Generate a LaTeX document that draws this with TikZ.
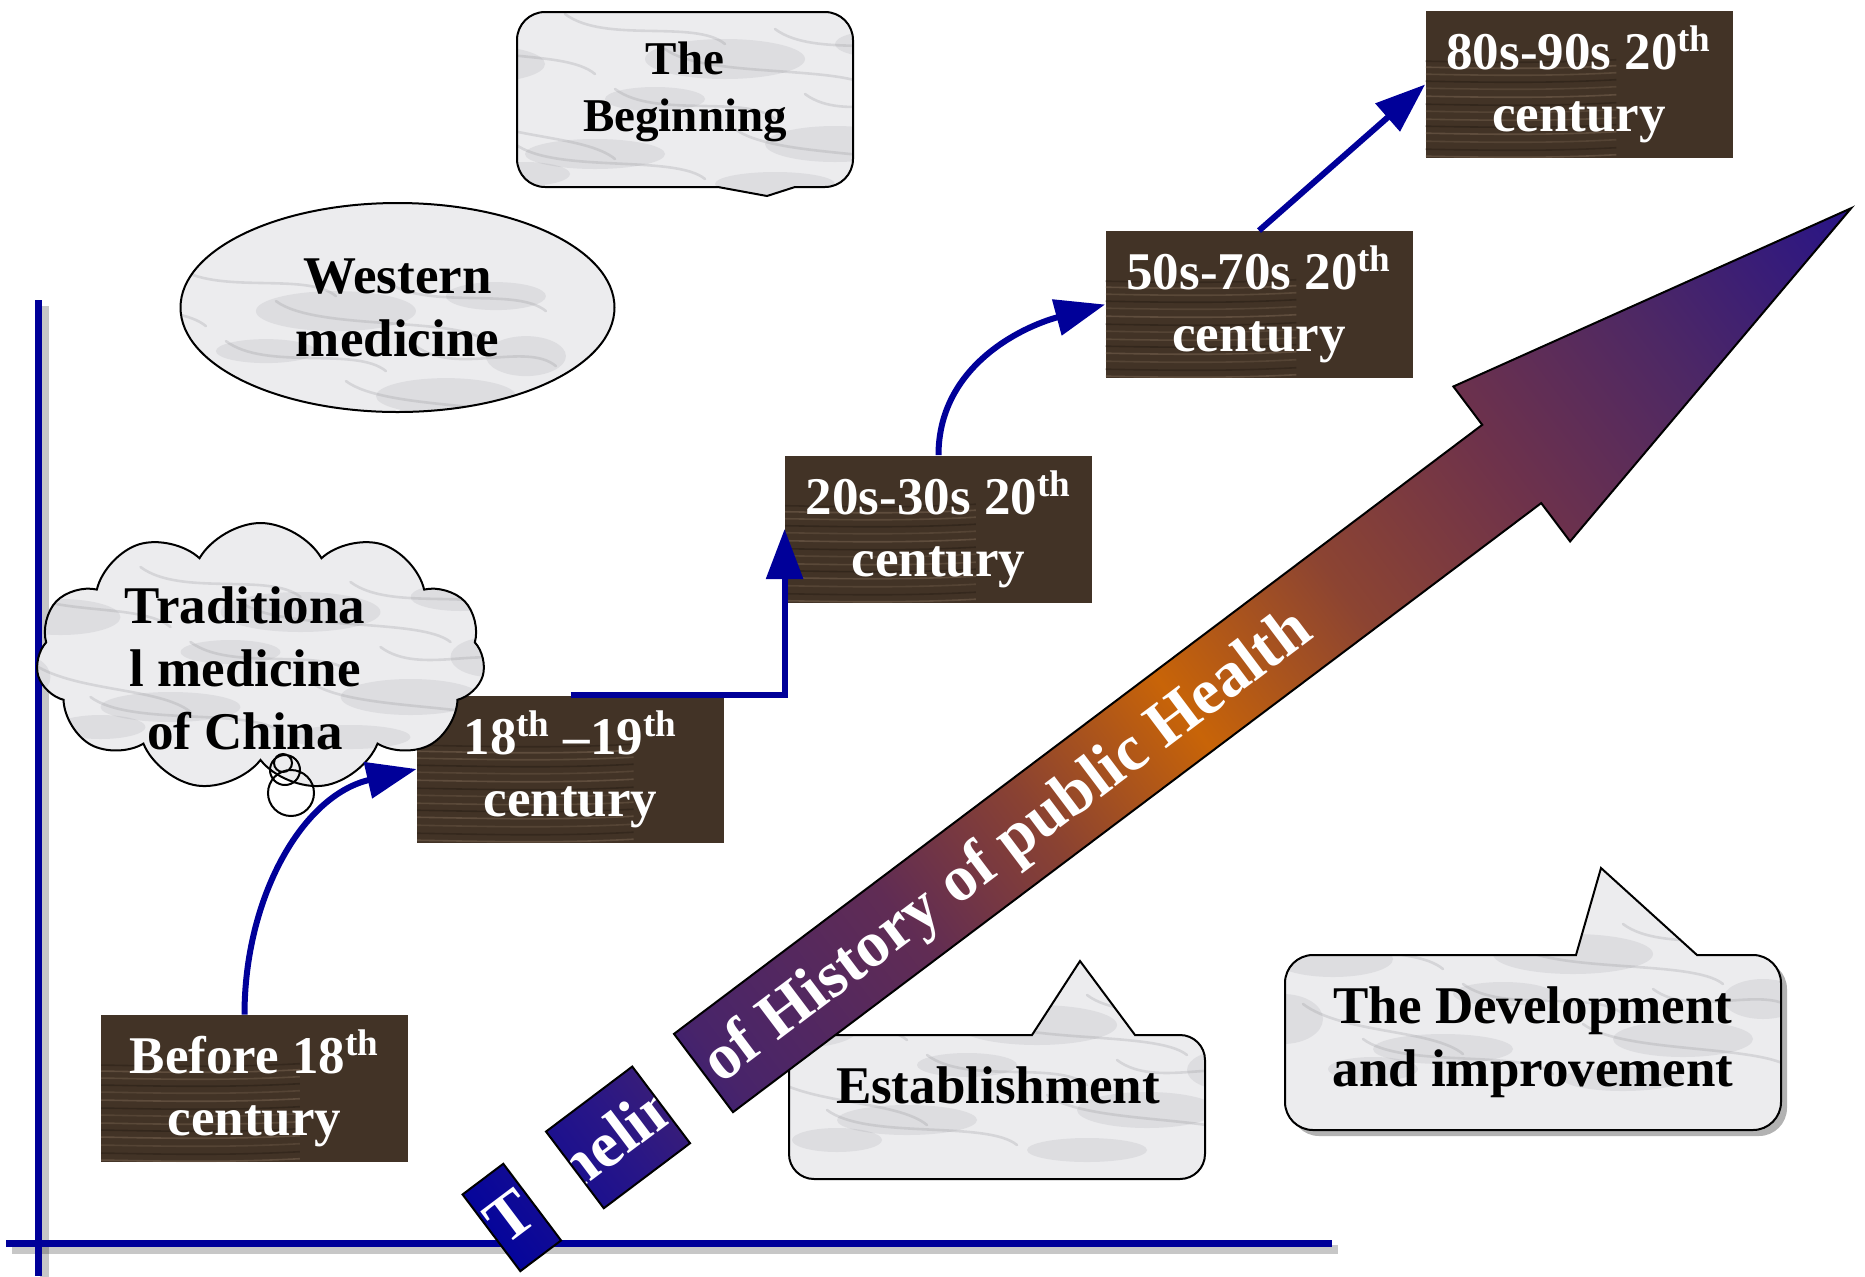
\documentclass[tikz,border=0pt]{standalone}
\usepackage{fontspec}
\setmainfont{Liberation Serif}
\usetikzlibrary{arrows.meta,calc,shapes.symbols,shapes.geometric}
\definecolor{axisblue}{RGB}{0,0,153}
\definecolor{woodc}{RGB}{66,51,38}
\definecolor{woodl}{RGB}{165,140,115}
\definecolor{woodd}{RGB}{38,28,20}
\definecolor{marblec}{RGB}{236,236,238}
\definecolor{veinc}{RGB}{135,135,142}
\definecolor{ga}{RGB}{5,5,155}
\definecolor{gb}{RGB}{40,22,135}
\definecolor{gc}{RGB}{72,36,106}
\definecolor{gd}{RGB}{96,44,84}
\definecolor{ge}{RGB}{138,66,50}
\definecolor{gf}{RGB}{200,100,8}
\definecolor{gg}{RGB}{140,68,50}
\definecolor{gh}{RGB}{110,50,75}
\definecolor{gi}{RGB}{78,40,100}
\definecolor{gj}{RGB}{40,20,135}
\pgfdeclarehorizontalshading{timelineshade}{100bp}{color(0bp)=(ga); color(25bp)=(ga); color(29.57bp)=(gb); color(33.38bp)=(gc); color(40.14bp)=(gd); color(45.13bp)=(ge); color(50.42bp)=(gf); color(56.29bp)=(gg); color(62.17bp)=(gh); color(68.04bp)=(gi); color(75bp)=(gj); color(100bp)=(gj)}
\newcommand\woodfont{\bfseries\fontsize{26.5pt}{31pt}\selectfont}
\newcommand\marbfont{\bfseries\fontsize{26.5pt}{31.5pt}\selectfont}
\newcommand\begfont{\bfseries\fontsize{23.5pt}{28.5pt}\selectfont}
\newcommand\tlfont{\bfseries\fontsize{32.5pt}{39pt}\selectfont}
\tikzset{
  woodgrain/.style={path picture={
    \begin{scope}[shift={(path picture bounding box.center)}]
      \foreach \yy/\op/\gcol in {-68/0.3/woodl, -62/0.5/woodd, -55/0.2/woodl, -47/0.25/woodl, -40/0.5/woodd, -33/0.2/woodl, -25/0.3/woodl, -18/0.45/woodd, -10/0.2/woodl, -2/0.3/woodl, 5/0.5/woodd, 12/0.25/woodl, 20/0.2/woodl, 27/0.5/woodd, 35/0.3/woodl, 43/0.2/woodl, 50/0.5/woodd, 57/0.25/woodl, 64/0.3/woodl, 70/0.45/woodd}
        \draw[draw=\gcol, opacity=\op, line width=0.8pt] (-170,\yy) .. controls (-60,\yy+5) and (40,\yy-5) .. (170,\yy+2);
    \end{scope}}},
  woodbox/.style={rectangle, fill=woodc, minimum width=153.5pt, minimum height=73.5pt, inner sep=0pt, text=white, align=center, font=\woodfont, woodgrain},
  marble/.style={fill=marblec, draw=black, line width=1pt, path picture={
    \begin{scope}[shift={(path picture bounding box.center)}]
      \foreach \cx/\cy/\rx/\ry in {-200/40/60/18, -90/-50/70/15, 40/45/80/20, 150/-40/70/18, -30/5/50/12, 200/60/50/14, -160/-70/45/12, 90/-80/60/12, 230/0/40/20, -250/-20/40/25}
        \fill[veinc, opacity=0.14] (\cx,\cy) ellipse[x radius=\rx, y radius=\ry];
      \foreach \sx/\sy/\ex/\ey in {-250/70/-90/30, -170/-40/20/-75, -20/55/190/15, 50/-25/260/-70, -230/-5/-70/-55, 90/75/250/45, -70/15/90/-15, -120/90/40/60, 120/10/260/-10}
        \draw[veinc, opacity=0.22, line width=1.3pt, line cap=round] (\sx,\sy) .. controls +(40,-30) and +(-30,25) .. (\ex,\ey);
    \end{scope}}},
  conn/.style={draw=axisblue, line width=3pt, -{Triangle[length=25pt,width=18pt]}},
  axisline/.style={draw=axisblue, line width=3.5pt},
  axisshadow/.style={draw=black, opacity=0.22, line width=4.5pt},
  mtext/.style={text=black, align=center, font=\marbfont, inner sep=0pt},
}
\begin{document}
\begin{tikzpicture}[x=0.5pt,y=0.5pt]
\useasboundingbox (0,0) rectangle (1865,-1276);
% axes
\coordinate (vt) at (38,-300); \coordinate (vb) at (38,-1276);
\coordinate (hl) at (6,-1243); \coordinate (hr) at (1332,-1243);
\draw[axisshadow] ([shift={(6,-6)}]vt) -- ([shift={(6,-6)}]vb);
\draw[axisshadow] ([shift={(6,-6)}]hl) -- ([shift={(6,-6)}]hr);
\draw[axisline] (vt) -- (vb);
\draw[axisline] (hl) -- (hr);
% Establishment callout
\path[marble] (814,-1035) -- (1032,-1035) -- (1080,-961) -- (1135,-1035) -- (1180,-1035) arc[start angle=90,end angle=0,radius=25] -- (1205,-1154) arc[start angle=0,end angle=-90,radius=25] -- (814,-1179) arc[start angle=270,end angle=180,radius=25] -- (789,-1060) arc[start angle=180,end angle=90,radius=25] -- cycle;
\node[mtext] (est) at (998,-1085) {Establishment};
% big timeline arrow
\begin{scope}[transform canvas={shift={(703.5,-1073)},rotate=37}]
  \begin{scope}
    \clip (0,-49) -- (1012,-49) -- (1012,-97) -- (1437,0) -- (1012,97) -- (1012,49) -- (0,49) -- cycle
      (-265.5,-48) rectangle (-214.5,48) (-161,-48) rectangle (-53,48);
    \shade[shading=timelineshade] (-265.5,-100) rectangle (1437,100);
    \node[anchor=base west, text=white, font=\tlfont, inner sep=0pt] (tl) at (-263,-19.5) {T\kern4pt imeline of History of public Health};
  \end{scope}
  \draw[black, line width=1pt] (0,-49) -- (1012,-49) -- (1012,-97) -- (1437,0) -- (1012,97) -- (1012,49) -- (0,49) -- cycle
      (-265.5,-48) rectangle (-214.5,48) (-161,-48) rectangle (-53,48);
\end{scope}
% The Beginning
\path[marble] (545,-12) -- (825,-12) arc[start angle=90,end angle=0,radius=28] -- (853,-159) arc[start angle=0,end angle=-90,radius=28] -- (795,-187) -- (767,-196) -- (718,-187) -- (545,-187) arc[start angle=270,end angle=180,radius=28] -- (517,-40) arc[start angle=180,end angle=90,radius=28] -- cycle;
\node[mtext, font=\begfont] (beg) at (685,-91.5) {The\\Beginning};
% Development callout with shadow
\begin{scope}[shift={(6,-6)}]
\fill[black, opacity=0.3] (1313,-955) -- (1576,-955) -- (1601,-868) -- (1697,-955) -- (1753,-955) arc[start angle=90,end angle=0,radius=28] -- (1781,-1102) arc[start angle=0,end angle=-90,radius=28] -- (1313,-1130) arc[start angle=270,end angle=180,radius=28] -- (1285,-983) arc[start angle=180,end angle=90,radius=28] -- cycle;
\end{scope}
\path[marble] (1313,-955) -- (1576,-955) -- (1601,-868) -- (1697,-955) -- (1753,-955) arc[start angle=90,end angle=0,radius=28] -- (1781,-1102) arc[start angle=0,end angle=-90,radius=28] -- (1313,-1130) arc[start angle=270,end angle=180,radius=28] -- (1285,-983) arc[start angle=180,end angle=90,radius=28] -- cycle;
\node[mtext] (dev) at (1533,-1042) {The Development\\and improvement};
% Western medicine
\node[marble, ellipse, minimum width=217pt, minimum height=104.5pt, inner sep=0pt, align=center, font=\marbfont] (wm) at (397.5,-307.5) {Western\\medicine};
% wood boxes
\node[woodbox] (b0) at (254.5,-1088.5) {Before 18\textsuperscript{th}\\century};
\node[woodbox] (b1) at (570.5,-769) {18\textsuperscript{th} –19\textsuperscript{th}\\century};
\node[woodbox] (b2) at (938.5,-529) {20s-30s 20\textsuperscript{th}\\century};
\node[woodbox] (b3) at (1259,-304.5) {50s-70s 20\textsuperscript{th}\\century};
\node[woodbox] (b4) at (1579,-84.5) {80s-90s 20\textsuperscript{th}\\century};
% cloud
\node[marble, cloud, cloud puffs=11, cloud puff arc=120, aspect=1.67, minimum width=224.5pt, minimum height=134pt, inner sep=0pt] (cl) at (260.5,-657) {};
\node[mtext] (tcm) at (245,-668.5) {Traditiona\\l medicine\\of China};
\draw[black, line width=1pt] (283,-763) circle[radius=9] (285,-770) circle[radius=15] (291,-793) circle[radius=23];
% connectors
\draw[conn] ([xshift=-5pt]b0.north) to[out=90, in=193] (b1.west);
\draw[conn] (b1.north) -| (b2.west);
\draw[conn] (b2.north) to[out=90, in=195] (b3.west);
\draw[conn] (b3.north) -- (b4.west);
\end{tikzpicture}
\end{document}
